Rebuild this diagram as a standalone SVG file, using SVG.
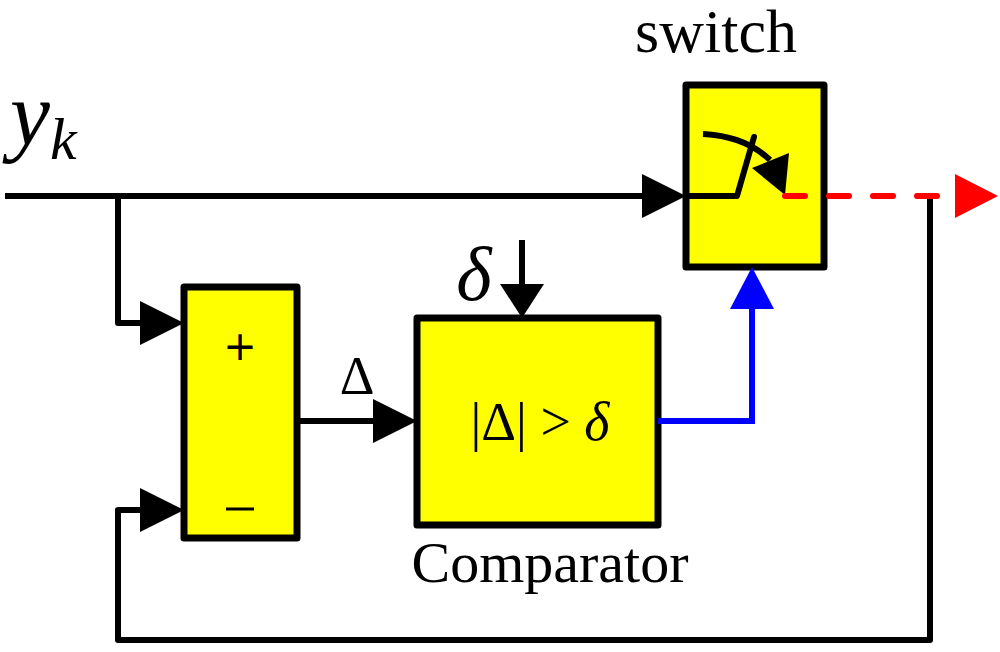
<svg xmlns="http://www.w3.org/2000/svg" width="1000" height="652" viewBox="0 0 1000 652">
<style>
.blk{fill:#ffff00;stroke:#000;stroke-width:7;stroke-linejoin:round}
.w{fill:none;stroke:#000;stroke-width:6;stroke-linejoin:round}
.t{font-family:"Liberation Serif",serif;fill:#000}
.m{font-family:"Liberation Serif",serif;font-style:italic;fill:#000}
.s{font-family:"DejaVu Sans",sans-serif;fill:#000}
</style>
<rect width="1000" height="652" fill="#fff"/>
<g id="sum">
<rect class="blk" x="184" y="287" width="113" height="251"/>
<text class="s" x="240" y="360" font-size="40" text-anchor="middle">+</text>
<path d="M226 509H254" stroke="#000" stroke-width="3"/>
</g>
<g id="comparator">
<rect class="blk" x="417" y="318" width="241" height="207"/>
<text class="t" x="540" y="440" font-size="54" text-anchor="middle">|Δ| &gt; <tspan class="m">δ</tspan></text>
<text class="t" x="550" y="582" font-size="58" text-anchor="middle">Comparator</text>
</g>
<g id="switch">
<rect class="blk" x="686" y="85" width="138" height="182"/>
<path class="w" d="M686 196H737L754 137" stroke-linecap="round"/>
<path class="w" d="M703 134Q745 136 770 160"/>
<polygon points="789,153 785,195 752,168"/>
<text class="t" x="716" y="52" font-size="62" text-anchor="middle">switch</text>
</g>
<g id="connectors">
<path class="w" d="M5 196H650"/>
<polygon points="642,174 686,196 642,218"/>
<path class="w" d="M118 196V323H150"/>
<polygon points="140,301 184,323 140,345"/>
<path class="w" d="M930 196V640H118V510H150"/>
<polygon points="140,488 184,510 140,532"/>
<path class="w" d="M297 421H385"/>
<polygon points="373,399 417,421 373,443"/>
<path class="w" d="M522 240V290"/>
<polygon points="500,284 522,318 544,284"/>
<path fill="none" stroke="#0000ff" stroke-width="6" d="M658 421H752V300"/>
<polygon fill="#0000ff" points="730,309 752,267 774,309"/>
<path fill="none" stroke="#ff0000" stroke-width="6" stroke-linecap="round" stroke-dasharray="20,24" d="M785 196H940"/>
<polygon fill="#ff0000" points="955,174 998,196 955,218"/>
</g>
<g id="labels">
<text class="m" x="10" y="145" font-size="90">y<tspan font-size="60" dy="14">k</tspan></text>
<text class="t" x="357" y="394" font-size="54" text-anchor="middle">Δ</text>
<text class="m" x="474" y="300" font-size="76" text-anchor="middle">δ</text>
</g>
</svg>
